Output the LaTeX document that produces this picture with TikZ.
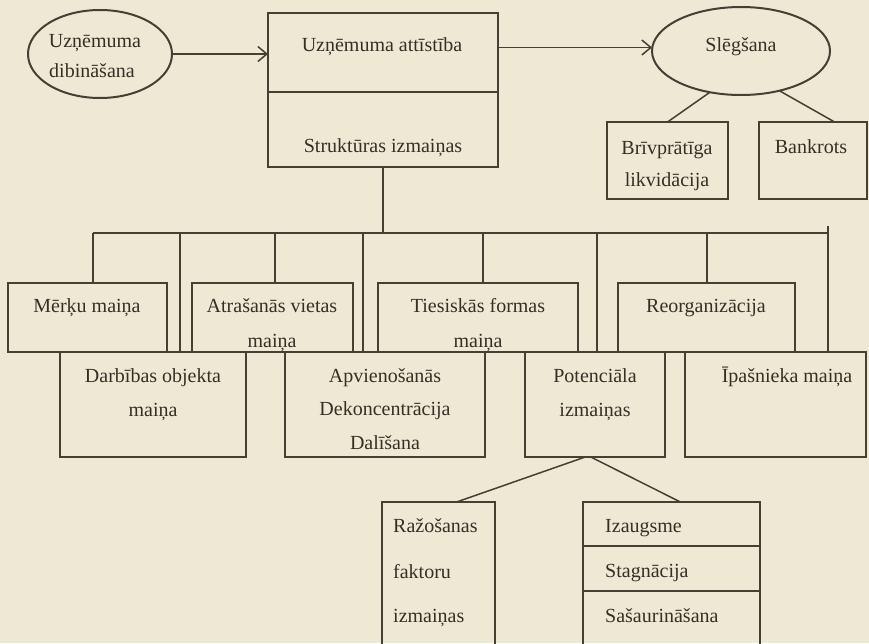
\documentclass[tikz,border=0pt]{standalone}
\usepackage{fontspec}
\setmainfont{Liberation Serif}
\usetikzlibrary{arrows.meta,shapes.geometric,calc}
\definecolor{paper}{RGB}{238,232,213}
\definecolor{ink}{RGB}{72,62,52}
\definecolor{txt}{RGB}{55,46,38}
\begin{document}
\begin{tikzpicture}[x=1pt,y=-1pt,
  box/.style={draw=ink,line width=2pt,inner sep=0pt,outer sep=0pt,anchor=north west},
  oval/.style={ellipse,draw=ink,line width=2pt,inner sep=0pt,outer sep=0pt},
  lbl/.style={text=txt,font=\fontsize{20}{24}\selectfont,inner sep=0pt,text height=14pt,text depth=4pt},
  conn/.style={draw=ink,line width=1.5pt},
  arr/.style={conn,-{Straight Barb[length=9pt,width=15pt,line width=1.5pt]}}]
\useasboundingbox (0,0) rectangle (869,643);
\clip (0,0) rectangle (869,643);
\fill[paper] (0,0) rectangle (869,643);

% top row
\node[oval,minimum width=144pt,minimum height=88pt] (dibin) at (100,54) {};
\node[box,minimum width=230pt,minimum height=79pt] (attist) at (268,13) {};
\node[box,minimum width=230pt,minimum height=75pt] (strukt) at (268,92) {};
\node[oval,minimum width=178pt,minimum height=88pt] (sleg) at (741,51) {};
\node[box,minimum width=121pt,minimum height=77pt] (brivpr) at (607,122) {};
\node[box,minimum width=108pt,minimum height=77pt] (bankr) at (759,122) {};

% first row of changes
\node[box,minimum width=159pt,minimum height=69pt] (merku) at (8,283) {};
\node[box,minimum width=161pt,minimum height=69pt] (atras) at (192,283) {};
\node[box,minimum width=200pt,minimum height=69pt] (ties) at (378,283) {};
\node[box,minimum width=177pt,minimum height=69pt] (reorg) at (618,283) {};

% second row of changes
\node[box,minimum width=186pt,minimum height=105pt] (darb) at (60,352) {};
\node[box,minimum width=200pt,minimum height=105pt] (apv) at (285,352) {};
\node[box,minimum width=140pt,minimum height=105pt] (pot) at (525,352) {};
\node[box,minimum width=181pt,minimum height=105pt] (ipas) at (685,352) {};

% bottom boxes (open below the page edge)
\node[box,minimum width=113pt,minimum height=160pt] (razos) at (382,502) {};
\node[box,minimum width=177pt,minimum height=160pt] (izaug) at (583,502) {};
\draw[draw=ink,line width=2pt] (izaug.north west |- 0,546) -- (izaug.north east |- 0,546);
\draw[draw=ink,line width=2pt] (izaug.north west |- 0,591) -- (izaug.north east |- 0,591);

% texts
\node[lbl] (t1) at (95,42) {Uzņēmuma};
\node[lbl] (t2) at (92,72) {dibināšana};
\node[lbl] (t3) at (382,46) {Uzņēmuma attīstība};
\node[lbl] (t4) at (383,147) {Struktūras izmaiņas};
\node[lbl] (t5) at (741,46) {Slēgšana};
\node[lbl] (t6) at (667,149) {Brīvprātīga};
\node[lbl] (t7) at (667,181) {likvidācija};
\node[lbl] (t8) at (811,148) {Bankrots};
\node[lbl] (t9) at (87,307) {Mērķu maiņa};
\node[lbl] (t10) at (272,307) {Atrašanās vietas};
\node[lbl] (t11) at (272,342) {maiņa};
\node[lbl] (t12) at (478,307) {Tiesiskās formas};
\node[lbl] (t13) at (478,342) {maiņa};
\node[lbl] (t14) at (706,307) {Reorganizācija};
\node[lbl] (t15) at (153,377) {Darbības objekta};
\node[lbl] (t16) at (153,411) {maiņa};
\node[lbl] (t17) at (385,377) {Apvienošanās};
\node[lbl] (t18) at (385,410) {Dekoncentrācija};
\node[lbl] (t19) at (385,444) {Dalīšana};
\node[lbl] (t20) at (595,377) {Potenciāla};
\node[lbl] (t21) at (595,411) {izmaiņas};
\node[lbl] (t22) at (787,377) {Īpašnieka maiņa};
\node[lbl,anchor=west] (t23) at (393,527) {Ražošanas};
\node[lbl,anchor=west] (t24) at (393,573) {faktoru};
\node[lbl,anchor=west] (t25) at (393,617) {izmaiņas};
\node[lbl,anchor=west] (t26) at (605,527) {Izaugsme};
\node[lbl,anchor=west] (t27) at (605,572) {Stagnācija};
\node[lbl,anchor=west] (t28) at (605,617) {Sašaurināšana};

% connectors at the top
\draw[arr] (dibin.east) -- (dibin.east -| attist.west);
\coordinate (ab) at ([yshift=5pt]attist.east);
\draw[arr] (ab) -- (ab -| sleg.west);
\draw[conn] (sleg.233) -- (brivpr.north);
\draw[conn] (sleg.314) -- ($(bankr.north west)!0.7!(bankr.north east)$);

% tree of structural changes
\coordinate (busL) at (93,233);
\coordinate (busR) at (828,233);
\draw[conn] (strukt.south) -- (strukt.south |- busL);
\draw[conn] (busL) -- (busR);
\coordinate (d1) at (93,233);
\coordinate (d2) at (180,233);
\coordinate (d3) at (275,233);
\coordinate (d4) at (363,233);
\coordinate (d5) at (483,233);
\coordinate (d6) at (597,233);
\coordinate (d7) at (707,233);
\coordinate (d8) at (828,226);
\draw[conn] (d1) -- (d1 |- merku.north);
\draw[conn] (d2) -- (d2 |- darb.north);
\draw[conn] (d3) -- (d3 |- atras.north);
\draw[conn] (d4) -- (d4 |- apv.north);
\draw[conn] (d5) -- (d5 |- ties.north);
\draw[conn] (d6) -- (d6 |- pot.north);
\draw[conn] (d7) -- (d7 |- reorg.north);
\draw[conn] (d8) -- (d8 |- ipas.north);

% potential changes
\draw[conn] ($(pot.south west)!0.43!(pot.south east)$) -- ($(razos.north west)!0.66!(razos.north east)$);
\draw[conn] ($(pot.south west)!0.47!(pot.south east)$) -- ($(izaug.north west)!0.55!(izaug.north east)$);
\end{tikzpicture}
\end{document}
